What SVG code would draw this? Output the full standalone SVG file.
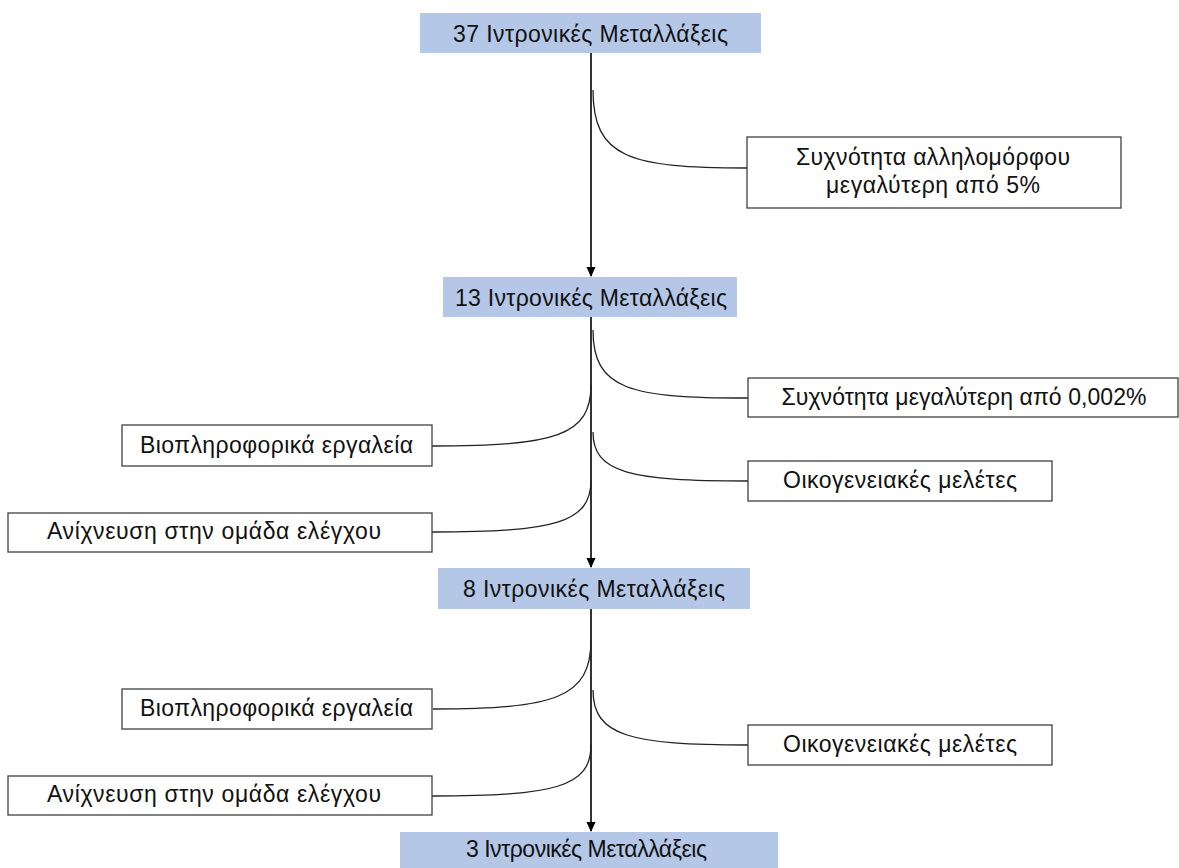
<svg xmlns="http://www.w3.org/2000/svg" width="1179" height="868" viewBox="0 0 1179 868">
<style>
.hd{fill:#B4C7E7;stroke:none}
.bx{fill:#fff;stroke:#404040;stroke-width:1.3}
.t{font-family:"Liberation Sans",Arial,sans-serif;font-size:23px;fill:#111;text-anchor:middle}
.ln{fill:none;stroke:#000;stroke-width:1.6}
.cv{fill:none;stroke:#222;stroke-width:1.3}
</style>
<defs>
<marker id="ah" markerWidth="10" markerHeight="10" refX="9" refY="5" orient="auto" markerUnits="userSpaceOnUse">
<path d="M0,0.5 L10,5 L0,9.5 z" fill="#000"/>
</marker>
</defs>
<rect width="1179" height="868" fill="#fff"/>
<g id="connectors">
<line class="ln" x1="591" y1="53" x2="591" y2="276" marker-end="url(#ah)"/>
<line class="ln" x1="591" y1="317" x2="591" y2="567" marker-end="url(#ah)"/>
<line class="ln" x1="591" y1="609" x2="591" y2="831" marker-end="url(#ah)"/>
<path class="cv" d="M593,90 C593,158 630,168 747,168"/>
<path class="cv" d="M593,330 C593,390 630,398 748,398"/>
<path class="cv" d="M591,385 C591,436 555,446 432,446"/>
<path class="cv" d="M593,432 C593,473 630,481 748,481"/>
<path class="cv" d="M591,480 C591,523 555,532 432,532"/>
<path class="cv" d="M591,640 C591,698 555,709 433,709"/>
<path class="cv" d="M593,690 C593,736 630,745 748,745"/>
<path class="cv" d="M591,745 C591,787 555,796 432,796"/>
</g>
<g id="n1"><rect class="hd" x="420" y="13" width="341" height="40"/><text class="t" x="590.5" y="42" textLength="275">37 Ιντρονικές Μεταλλάξεις</text></g>
<g id="n2"><rect class="bx" x="747" y="137" width="374" height="71"/><text class="t" x="933" y="165" textLength="274">Συχνότητα αλληλομόρφου</text><text class="t" x="933" y="193" textLength="214">μεγαλύτερη από 5%</text></g>
<g id="n3"><rect class="hd" x="443" y="277" width="294" height="40"/><text class="t" x="591" y="306" textLength="272">13 Ιντρονικές Μεταλλάξεις</text></g>
<g id="n4"><rect class="bx" x="748" y="378" width="430" height="39"/><text class="t" x="964" y="405" textLength="365">Συχνότητα μεγαλύτερη από 0,002%</text></g>
<g id="n5"><rect class="bx" x="122" y="425" width="310" height="41"/><text class="t" x="276.5" y="453" textLength="273">Βιοπληροφορικά εργαλεία</text></g>
<g id="n6"><rect class="bx" x="748" y="461" width="304" height="40"/><text class="t" x="900" y="488" textLength="234">Οικογενειακές μελέτες</text></g>
<g id="n7"><rect class="bx" x="8" y="513" width="424" height="39"/><text class="t" x="214" y="539" textLength="334">Ανίχνευση στην ομάδα ελέγχου</text></g>
<g id="n8"><rect class="hd" x="438" y="568" width="312" height="41"/><text class="t" x="594" y="597" textLength="262">8 Ιντρονικές Μεταλλάξεις</text></g>
<g id="n9"><rect class="bx" x="122" y="689" width="310" height="40"/><text class="t" x="276.5" y="716" textLength="273">Βιοπληροφορικά εργαλεία</text></g>
<g id="n10"><rect class="bx" x="748" y="725" width="304" height="40"/><text class="t" x="900" y="752" textLength="234">Οικογενειακές μελέτες</text></g>
<g id="n11"><rect class="bx" x="8" y="776" width="424" height="39"/><text class="t" x="214" y="802" textLength="334">Ανίχνευση στην ομάδα ελέγχου</text></g>
<g id="n12"><rect class="hd" x="400" y="832" width="378" height="40"/><text class="t" x="586.5" y="857" textLength="241">3 Ιντρονικές Μεταλλάξεις</text></g>
</svg>
